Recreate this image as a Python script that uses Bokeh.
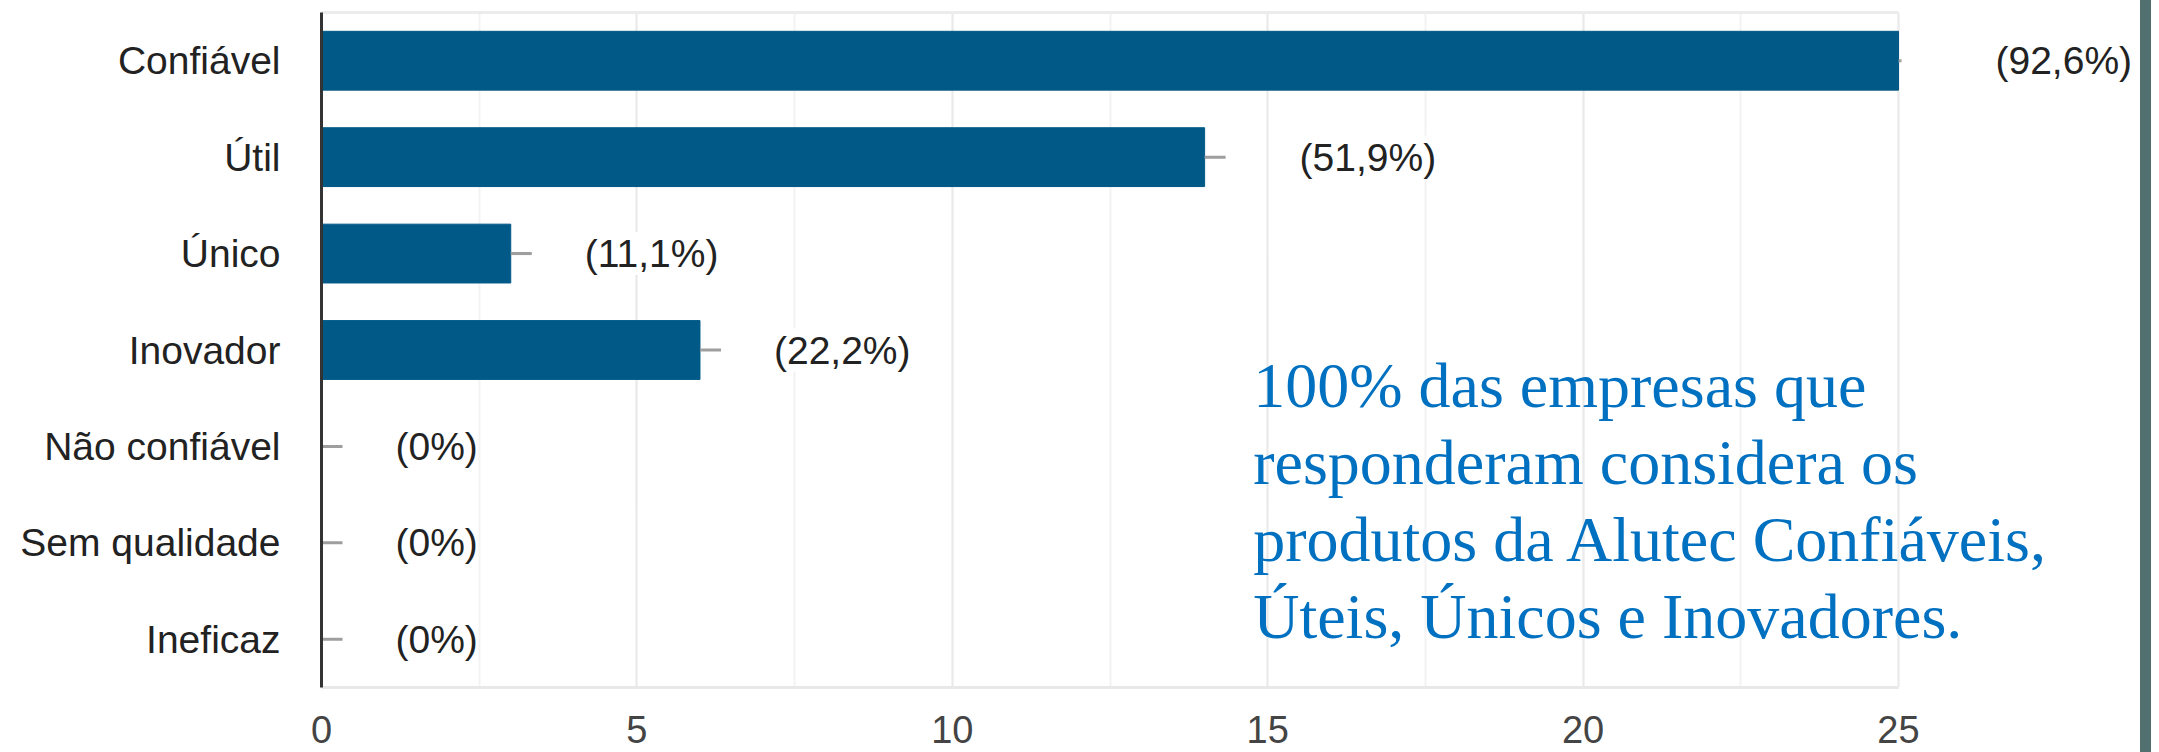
from bokeh.plotting import figure
from bokeh.models import (ColumnDataSource, LabelSet, Label, Range1d, FactorRange,
                          SingleIntervalTicker, FixedTicker, LinearAxis, Div)
from bokeh.core.properties import value
from bokeh.layouts import row
from bokeh.embed import file_html
from bokeh.resources import INLINE

# ---- data ----
categories = ["Confiável", "Útil", "Único", "Inovador",
              "Não confiável", "Sem qualidade", "Ineficaz"]
counts = [25, 14, 3, 6, 0, 0, 0]
pct_labels = ["(92,6%)", "(51,9%)", "(11,1%)", "(22,2%)", "(0%)", "(0%)", "(0%)"]
x_ticks = [0, 5, 10, 15, 20, 25]
note_lines = ["100%  das empresas que",
              "responderam considera os",
              "produtos da Alutec Confiáveis,",
              "Úteis, Únicos e Inovadores."]

# ---- styles / geometry ----
label_dx = [97, 95, 74, 74, 74, 74, 74]
stub_len = [3, 21, 21, 21, 21, 21, 21]
BAR = "#005987"
SANS = "Liberation Sans"

W, H = 2140, 752
FRAME_LEFT = 321
FRAME_TOP = 12
FRAME_BOTTOM = 687
PX_PER_UNIT = 63.08
x_end = (W - FRAME_LEFT) / PX_PER_UNIT

src = ColumnDataSource(dict(y=categories, x=counts, text=pct_labels,
                            dx=label_dx, stub=stub_len))

p = figure(width=W, height=H,
           y_range=FactorRange(factors=list(reversed(categories))),
           x_range=Range1d(x_ticks[0], x_end),
           output_backend="svg", toolbar_location=None, title=None,
           min_border_left=FRAME_LEFT, min_border_right=0,
           min_border_top=FRAME_TOP, min_border_bottom=H - FRAME_BOTTOM)
p.background_fill_color = "white"
p.border_fill_color = "white"
p.outline_line_color = None

# bars
p.hbar(y="y", right="x", left=0, height=0.61, source=src,
       fill_color=BAR, line_color=BAR)
# little stubs after each bar
p.ray(x="x", y="y", length="stub", length_units="screen", angle=0,
      line_color="#9e9e9e", line_width=3, source=src)

# grid
tick = SingleIntervalTicker(interval=5, num_minor_ticks=2)
p.xaxis.ticker = tick
p.xgrid.ticker = tick
p.xgrid.bounds = (x_ticks[0], x_ticks[-1])
p.xgrid.grid_line_color = "#eaeaea"
p.xgrid.grid_line_width = 2
p.xgrid.minor_grid_line_color = "#f3f3f3"
p.xgrid.minor_grid_line_width = 2
p.ygrid.grid_line_color = None

# x axis
xa = p.xaxis[0]
xa.bounds = (x_ticks[0], x_ticks[-1])
xa.axis_line_color = "#e8e8e8"
xa.axis_line_width = 3
xa.major_tick_line_color = None
xa.minor_tick_line_color = None
xa.major_label_text_font = SANS
xa.major_label_text_font_size = "38px"
xa.major_label_text_color = "#444444"
xa.major_label_standoff = 22

# top border line
top = LinearAxis(ticker=FixedTicker(ticks=[]), bounds=(x_ticks[0], x_ticks[-1]),
                 axis_line_color="#ececec", axis_line_width=3,
                 major_tick_line_color=None, minor_tick_line_color=None,
                 major_label_text_font_size="0px", major_label_standoff=0)
p.add_layout(top, "above")

# y axis
ya = p.yaxis[0]
ya.axis_line_color = "#333333"
ya.axis_line_width = 3
ya.major_tick_line_color = None
ya.minor_tick_line_color = None
ya.major_label_text_font = SANS
ya.major_label_text_font_size = "39px"
ya.major_label_text_color = "#222222"
ya.major_label_standoff = 35

# value labels
labels = LabelSet(x="x", y="y", text="text", source=src, x_offset="dx",
                  text_font=value(SANS), text_font_size="39px",
                  text_color="#222222", text_align="left",
                  text_baseline="middle", background_fill_color="white")
p.add_layout(labels)

# note text
band = (FRAME_BOTTOM - FRAME_TOP) / len(categories)
note_x = 14.77
note_y0 = (FRAME_BOTTOM - 385) / band
note_step = 77 / band
for i, line in enumerate(note_lines):
    p.add_layout(Label(x=note_x, y=note_y0 - i * note_step, text=line,
                       text_font="Liberation Serif", text_font_size="64px",
                       text_color="#0070C0", text_align="left",
                       text_baseline="alphabetic"))

strip = Div(width=11, height=H, margin=0,
            styles={"background-color": "#527070"})
layout = row(p, strip)

open("out.html", "w").write(file_html(layout, INLINE))
